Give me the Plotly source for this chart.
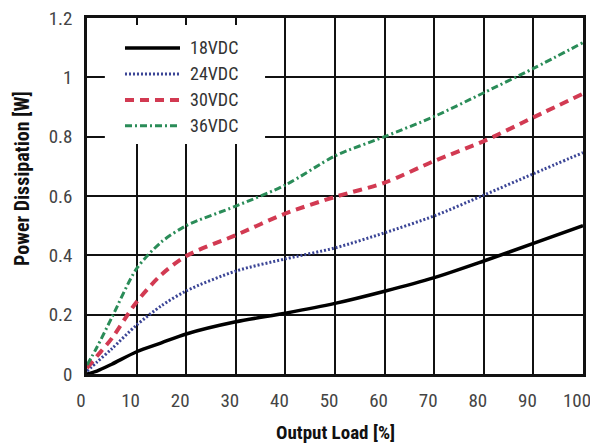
import plotly.graph_objects as go

load_pct = [0, 2, 5, 10, 15, 20, 30, 40, 50, 60, 70, 80, 90, 100]
p_18vdc = [0.0, 0.01, 0.033, 0.075, 0.105, 0.135, 0.176, 0.205, 0.238, 0.279, 0.325, 0.381, 0.44, 0.5]
p_24vdc = [0.01, 0.04, 0.085, 0.165, 0.23, 0.28, 0.347, 0.388, 0.425, 0.476, 0.533, 0.603, 0.675, 0.746]
p_30vdc = [0.02, 0.06, 0.12, 0.243, 0.335, 0.398, 0.468, 0.541, 0.597, 0.645, 0.718, 0.785, 0.865, 0.945]
p_36vdc = [0.03, 0.09, 0.19, 0.355, 0.445, 0.5, 0.566, 0.637, 0.735, 0.8, 0.868, 0.948, 1.03, 1.117]

series_names = ["18VDC", "24VDC", "30VDC", "36VDC"]
series_vals = [p_18vdc, p_24vdc, p_30vdc, p_36vdc]
colors = ["#000000", "#3b4596", "#d23a52", "#2a8c58"]
dashes = ["solid", "2px,2px", "9px,6px", "7px,3px,2px,3px"]
widths = [3.5, 3, 4, 3]

FONT = "Liberation Sans Narrow, Arial Narrow, Roboto Condensed, Liberation Sans, sans-serif"

fig = go.Figure()
for name, vals, c, d, w in zip(series_names, series_vals, colors, dashes, widths):
    fig.add_trace(go.Scatter(
        x=load_pct, y=vals, mode="lines", name=name,
        line=dict(color=c, dash=d, width=w, shape="spline", smoothing=0.8),
        showlegend=False,
    ))

# manual legend (white box covering gridlines)
shapes = [dict(type="rect", xref="paper", yref="paper", x0=0.036, x1=0.359, y0=0.646, y1=0.980,
               fillcolor="white", line=dict(width=0), layer="above")]
annotations = []
leg_y = [0.916, 0.843, 0.770, 0.697]
for name, c, d, w, yy in zip(series_names, colors, dashes, widths, leg_y):
    shapes.append(dict(type="line", xref="paper", yref="paper", x0=0.0766, x1=0.1875, y0=yy, y1=yy,
                       line=dict(color=c, dash=d, width=w), layer="above"))
    annotations.append(dict(xref="paper", yref="paper", x=0.204, y=yy, text=name, showarrow=False,
                            xanchor="left", yanchor="middle", font=dict(family=FONT, size=18, color="#333")))

# axis titles
annotations.append(dict(xref="paper", yref="paper", x=0.5, y=-0.163, text="<b>Output Load [%]</b>",
                        showarrow=False, xanchor="center", yanchor="middle",
                        font=dict(family=FONT, size=19, color="#111")))
annotations.append(dict(xref="paper", yref="paper", x=-0.131, y=0.548, text="<b>Power Dissipation [W]</b>",
                        showarrow=False, xanchor="center", yanchor="middle", textangle=-90,
                        font=dict(family=FONT, size=20, color="#111")))

fig.update_layout(
    width=590, height=437,
    margin=dict(l=79, r=15, t=10, b=71, autoexpand=False),
    paper_bgcolor="white", plot_bgcolor="white",
    font=dict(family=FONT, size=20, color="#333"),
    shapes=shapes, annotations=annotations,
)
fig.update_xaxes(
    range=[0, 100], dtick=10, tick0=0, automargin=False, ticklabeloverflow="allow",
    ticklabelshift=-6,
    showgrid=True, gridcolor="#111", gridwidth=1.5,
    showline=True, linecolor="#111", linewidth=2.5, mirror=True,
    ticks="outside", ticklen=7, tickcolor="rgba(0,0,0,0)", zeroline=False,
    tickfont=dict(family=FONT, size=19, color="#444"),
)
fig.update_yaxes(
    range=[0, 1.2], dtick=0.2, tick0=0, automargin=False, ticklabeloverflow="allow",
    showgrid=True, gridcolor="#111", gridwidth=1.5,
    showline=True, linecolor="#111", linewidth=2.5, mirror=True,
    ticks="outside", ticklen=8, tickcolor="rgba(0,0,0,0)", zeroline=False,
    tickfont=dict(family=FONT, size=19, color="#444"),
)

fig.write_html("out.html")
